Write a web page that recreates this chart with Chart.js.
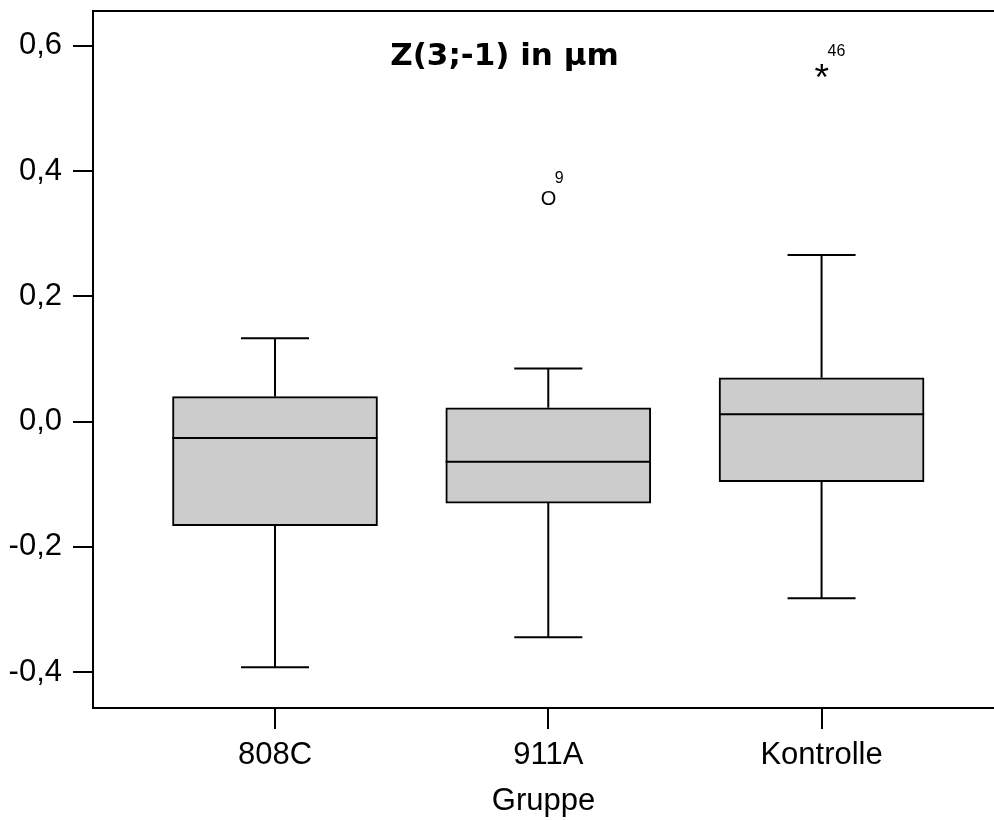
<!DOCTYPE html>
<html>
<head>
<meta charset="utf-8">
<script src="https://cdn.jsdelivr.net/npm/chart.js@4/dist/chart.umd.min.js"></script>
<style>html,body{margin:0;padding:0;background:#fff;}canvas{display:block;}</style>
</head>
<body>
<canvas id="c" width="994" height="820"></canvas>
<script>
// ---- data ----
const categories = ['808C', '911A', 'Kontrolle'];
const whiskerLow  = [-0.392, -0.344, -0.282];
const q1          = [-0.166, -0.130, -0.096];
const median      = [-0.026, -0.064,  0.012];
const q3          = [ 0.040,  0.022,  0.070];
const whiskerHigh = [ 0.133,  0.085,  0.266];
const outlierGroup = [1, 2];
const outlierValue = [0.357, 0.560];
const outlierCase  = ['9', '46'];
const outlierMark  = ['O', '*'];
const yTickValues = [-0.4, -0.2, 0, 0.2, 0.4, 0.6];
const yTickLabels = ['-0,4', '-0,2', '0,0', '0,2', '0,4', '0,6'];
const titleText = 'Z(3;-1) in µm';
const xAxisTitle = 'Gruppe';

// ---- style constants ----
const FONT = "'Liberation Sans', Arial, sans-serif";
const BOX_HALF = 0.3755;
const CAP_HALF = 0.1245;

const medianData = [];
const whiskerData = [];
categories.forEach((c, i) => {
  medianData.push({x: i - BOX_HALF, y: median[i]}, {x: i + BOX_HALF, y: median[i]}, {x: i + 0.5, y: null});
  whiskerData.push(
    {x: i, y: q3[i]}, {x: i, y: whiskerHigh[i]}, {x: i, y: null},
    {x: i - CAP_HALF, y: whiskerHigh[i]}, {x: i + CAP_HALF, y: whiskerHigh[i]}, {x: i, y: null},
    {x: i, y: q1[i]}, {x: i, y: whiskerLow[i]}, {x: i, y: null},
    {x: i - CAP_HALF, y: whiskerLow[i]}, {x: i + CAP_HALF, y: whiskerLow[i]}, {x: i, y: null}
  );
});

const frameAndTitle = {
  id: 'frameAndTitle',
  afterDraw(chart) {
    const {ctx, chartArea: a} = chart;
    ctx.save();
    ctx.strokeStyle = '#000';
    ctx.lineWidth = 2;
    ctx.beginPath();
    ctx.moveTo(a.left - 1, a.top);
    ctx.lineTo(a.right, a.top);
    ctx.stroke();
    ctx.fillStyle = '#000';
    ctx.font = "bold 31px 'DejaVu Sans', Verdana, sans-serif";
    ctx.textAlign = 'center';
    ctx.textBaseline = 'alphabetic';
    ctx.fillText(titleText, a.left + (a.right - a.left) * 0.4567, a.top + 54);
    ctx.restore();
  },
  afterDatasetsDraw(chart) {
    const ctx = chart.ctx;
    const meta = chart.getDatasetMeta(3);
    ctx.save();
    ctx.fillStyle = '#000';
    ctx.textAlign = 'left';
    ctx.textBaseline = 'alphabetic';
    meta.data.forEach((el, k) => {
      const g = outlierMark[k];
      let size = 20;
      if (g === '*') {
        ctx.font = '40px ' + FONT;
        const mm = ctx.measureText(g);
        size = 40 * 14 / (mm.actualBoundingBoxLeft + mm.actualBoundingBoxRight);
      }
      ctx.font = size + 'px ' + FONT;
      const m = ctx.measureText(g);
      const tx = el.x - (m.actualBoundingBoxRight - m.actualBoundingBoxLeft) / 2;
      const ty = el.y + (m.actualBoundingBoxAscent - m.actualBoundingBoxDescent) / 2;
      ctx.fillText(g, tx, ty);
      const inkRight = tx + m.actualBoundingBoxRight;
      const inkTop = ty - m.actualBoundingBoxAscent;
      ctx.font = '16px ' + FONT;
      const lm = ctx.measureText(outlierCase[k]);
      ctx.fillText(outlierCase[k], inkRight - 1 + lm.actualBoundingBoxLeft, inkTop - 7.5 - lm.actualBoundingBoxDescent);
    });
    ctx.restore();
  }
};

new Chart(document.getElementById('c'), {
  type: 'bar',
  data: {
    datasets: [
      {
        type: 'bar',
        data: categories.map((c, i) => ({x: i, y: [q1[i], q3[i]]})),
        backgroundColor: '#cccccc',
        borderColor: '#000',
        borderWidth: 2,
        borderSkipped: false,
        barThickness: 205,
        order: 3
      },
      {
        type: 'line',
        data: medianData,
        borderColor: '#000',
        borderWidth: 2,
        pointRadius: 0,
        spanGaps: false,
        fill: false,
        order: 1
      },
      {
        type: 'line',
        data: whiskerData,
        borderColor: '#000',
        borderWidth: 2,
        pointRadius: 0,
        spanGaps: false,
        fill: false,
        order: 2
      },
      {
        type: 'scatter',
        data: outlierValue.map((v, k) => ({x: outlierGroup[k], y: v})),
        pointRadius: 0,
        showLine: false,
        order: 0
      }
    ]
  },
  options: {
    responsive: false,
    animation: false,
    events: [],
    layout: {padding: {top: 11, right: 0, left: 0, bottom: 0}},
    plugins: {legend: {display: false}, tooltip: {enabled: false}, title: {display: false}},
    scales: {
      x: {
        type: 'linear',
        min: -0.666,
        max: 2.631,
        offset: false,
        afterBuildTicks: s => { s.ticks = categories.map((c, i) => ({value: i})); },
        afterFit: s => { s.height = 112; s.paddingLeft = 0; s.paddingRight = 0; },
        ticks: {
          callback: (v, i) => categories[i],
          font: {family: FONT, size: 31},
          color: '#000',
          padding: 8,
          maxRotation: 0,
          autoSkip: false
        },
        grid: {offset: false, drawOnChartArea: false, drawTicks: true, tickLength: 21, color: '#000', lineWidth: 2},
        border: {display: true, color: '#000', width: 2},
        title: {display: true, text: xAxisTitle, font: {family: FONT, size: 31}, color: '#000', padding: {top: 4, bottom: 0}}
      },
      y: {
        type: 'linear',
        min: -0.4571,
        max: 0.6555,
        afterBuildTicks: s => { s.ticks = yTickValues.map(v => ({value: v})); },
        afterFit: s => { s.width = 93; s.paddingTop = 0; s.paddingBottom = 0; },
        ticks: {
          callback: (v, i) => yTickLabels[i],
          font: {family: FONT, size: 31},
          color: '#000',
          padding: 11
        },
        grid: {drawOnChartArea: false, drawTicks: true, tickLength: 20, color: '#000', lineWidth: 2},
        border: {display: true, color: '#000', width: 2}
      }
    }
  },
  plugins: [frameAndTitle]
});
</script>
</body>
</html>
